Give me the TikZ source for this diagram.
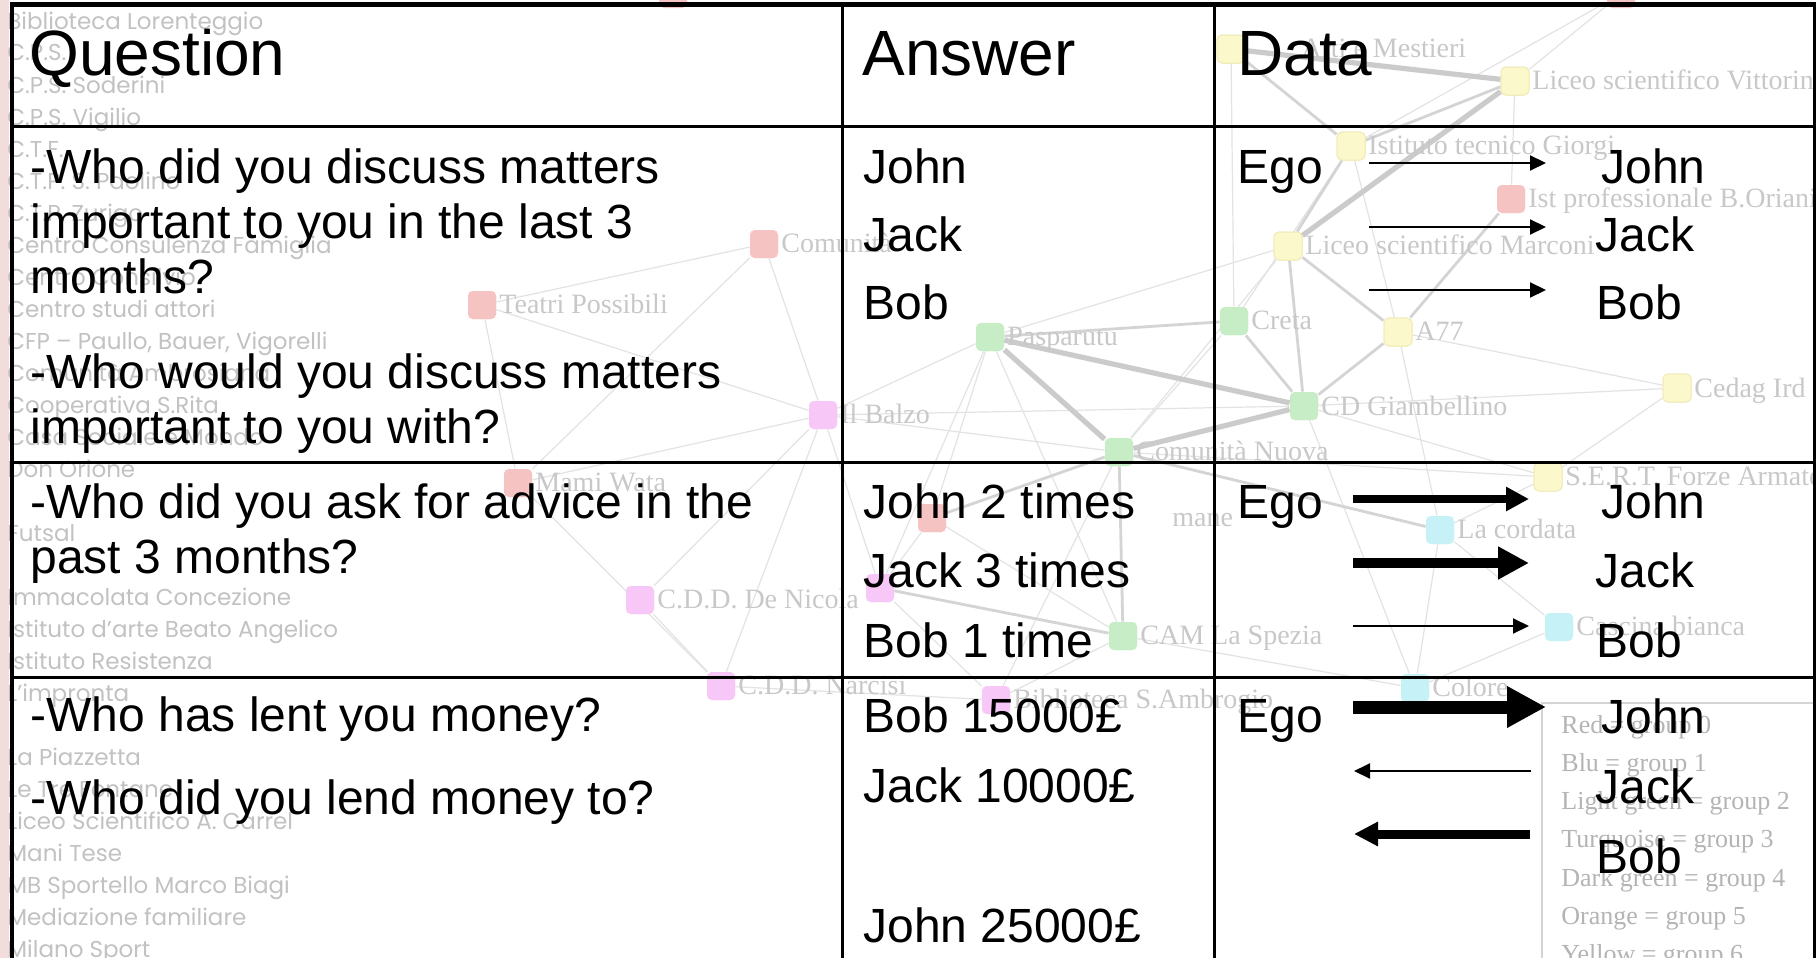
\documentclass[tikz,border=0pt]{standalone}
\usepackage{fontspec}
\setmainfont{Liberation Sans}
\newfontfamily\bgsans{Poppins}
\newfontfamily\bgserif{Liberation Serif}
\usetikzlibrary{arrows.meta}
\definecolor{listgrey}{HTML}{C2C2C2}
\definecolor{glabgrey}{HTML}{C8C8C8}
\definecolor{leggrey}{HTML}{B4B4B4}
\definecolor{edgethin}{HTML}{E3E3E3}
\definecolor{edgemed}{HTML}{D4D4D4}
\definecolor{edgethick}{HTML}{CBCBCB}
\definecolor{nred}{HTML}{F6C3C3}
\definecolor{npink}{HTML}{F7C8F7}
\definecolor{ngreen}{HTML}{C6EDC6}
\definecolor{nyellow}{HTML}{FBF9CC}
\definecolor{nyellowb}{HTML}{F0EBB8}
\definecolor{ncyan}{HTML}{C6F1F7}
\definecolor{stripe}{HTML}{F3DCDC}
\begin{document}
\begin{tikzpicture}[x=0.5pt,y=-0.5pt,
  gsq/.style={rectangle,rounded corners=2.5pt,minimum size=14pt,inner sep=0pt},
  gred/.style={gsq,fill=nred},
  gpink/.style={gsq,fill=npink},
  ggreen/.style={gsq,fill=ngreen},
  gyellow/.style={gsq,fill=nyellow,draw=nyellowb,line width=0.5pt},
  gcyan/.style={gsq,fill=ncyan},
  glab/.style={anchor=base west,inner sep=0pt,text=glabgrey,font=\bgserif\fontsize{14}{16}\selectfont},
  bgl/.style={anchor=base west,inner sep=0pt,text=listgrey,font=\bgsans\fontsize{11.5}{13}\selectfont},
  legt/.style={anchor=base west,inner sep=0pt,text=leggrey,font=\bgserif\fontsize{13}{15}\selectfont},
  ethin/.style={draw=edgethin,line width=0.6pt},
  emed/.style={draw=edgemed,line width=1.4pt},
  ethick/.style={draw=edgethick,line width=2.6pt},
  qtext/.style={anchor=base west,inner sep=0pt,font=\fontsize{24}{28}\selectfont},
  htext/.style={anchor=base west,inner sep=0pt,font=\fontsize{32}{38}\selectfont},
  tline/.style={line width=1.5pt},
  arrthin/.style={line width=1pt,-{Triangle[length=8pt,width=7.5pt]}},
  arrmid/.style={line width=4pt,-{Triangle[length=11.5pt,width=11.5pt]}},
  arrbig/.style={line width=5pt,-{Triangle[length=15.5pt,width=15.5pt]}},
  arrhuge/.style={line width=6.5pt,-{Triangle[length=19.5pt,width=19.5pt]}},
  arrback/.style={line width=4.5pt,-{Triangle[length=12pt,width=11.5pt]}}
]
\useasboundingbox (0,0) rectangle (1816,958);
\clip (0,0) rectangle (1816,958);
\fill[white] (0,0) rectangle (1816,958);
\fill[stripe] (0,0) rectangle (9,958);

% ---------- background network: nodes ----------
\node[gred]    (n1)  at (764,244) {};
\node[gred]    (n2)  at (482,305) {};
\node[ggreen]  (n3)  at (990,337) {};
\node[gpink]   (n4)  at (823,415) {};
\node[ggreen]  (n5)  at (1119,452) {};
\node[gred]    (n6)  at (518,483) {};
\node[gred]    (n7)  at (932,518) {};
\node[gpink]   (n8)  at (880,588) {};
\node[gpink]   (n9)  at (640,600) {};
\node[ggreen]  (n10) at (1123,636) {};
\node[gpink]   (n11) at (721,686) {};
\node[gpink]   (n12) at (996,700) {};
\node[gcyan]   (n13) at (1415,688) {};
\node[gcyan]   (n14) at (1440,530) {};
\node[gcyan]   (n15) at (1559,627) {};
\node[gyellow] (n16) at (1548,477) {};
\node[gyellow] (n17) at (1677,388) {};
\node[ggreen]  (n18) at (1304,406) {};
\node[gyellow] (n19) at (1398,332) {};
\node[ggreen]  (n20) at (1234,321) {};
\node[gyellow] (n21) at (1288,246) {};
\node[gred]    (n22) at (1511,199) {};
\node[gyellow] (n23) at (1351,146) {};
\node[gyellow] (n24) at (1515,81) {};
\node[gyellow] (n25) at (1231,49) {};
\node[gred]    (t1)  at (673,-6) {};
\node[gred]    (t2)  at (1621,-6) {};

% ---------- background network: edges ----------
\foreach \a/\b in {n1/n2,n1/n4,n1/n6,n2/n4,n2/n6,n4/n5,n4/n6,n4/n3,n4/n9,n4/n8,n4/n18,
  n3/n21,n3/n7,n3/n8,n3/n10,n5/n20,n5/n21,n5/n12,n5/n16,n18/n17,n19/n17,n18/n13,
  n14/n13,n14/n15,n13/n15,n10/n12,n9/n11,n11/n6,n11/n4,n23/n19,n23/n20,n24/n22,
  t2/n24,t2/n23,n25/n20,n7/n10,n7/n8,n12/n8,n10/n13,n16/n14,n11/n12,n17/n16,
  n18/n16,n19/n14}
  \draw[ethin] (\a) -- (\b);
\foreach \a/\b in {n3/n20,n20/n18,n21/n19,n23/n21,n23/n25,n19/n18,n19/n22,n5/n10,
  n5/n14,n8/n10,n7/n5,n21/n18,n23/n24}
  \draw[emed] (\a) -- (\b);
\foreach \a/\b in {n3/n5,n3/n18,n5/n18,n24/n21,n25/n24}
  \draw[ethick] (\a) -- (\b);
% node squares again, above the edges
\foreach \n/\s in {n1/gred,n2/gred,n3/ggreen,n4/gpink,n5/ggreen,n6/gred,n7/gred,n8/gpink,
  n9/gpink,n10/ggreen,n11/gpink,n12/gpink,n13/gcyan,n14/gcyan,n15/gcyan,n16/gyellow,
  n17/gyellow,n18/ggreen,n19/gyellow,n20/ggreen,n21/gyellow,n22/gred,n23/gyellow,
  n24/gyellow,n25/gyellow}
  \node[\s] (top\n) at (\n) {};

% ---------- background network: labels ----------
\node[glab] (l1)  at (781,252) {Comunità};
\node[glab] (l2)  at (499,313) {Teatri Possibili};
\node[glab] (l3)  at (1007,345) {Pasparutu};
\node[glab] (l4)  at (840,423) {Il Balzo};
\node[glab] (l5)  at (1136,460) {Comunità Nuova};
\node[glab] (l6)  at (535,491) {Mami Wata};
\node[glab] (l7)  at (1172,526) {mane};
\node[glab] (l9)  at (657,608) {C.D.D. De Nicola};
\node[glab] (l10) at (1140,644) {CAM La Spezia};
\node[glab] (l11) at (738,694) {C.D.D. Narcisi};
\node[glab] (l12) at (1013,708) {Biblioteca S.Ambrogio};
\node[glab] (l13) at (1432,696) {Colore};
\node[glab] (l14) at (1457,538) {La cordata};
\node[glab] (l15) at (1576,635) {Cascina bianca};
\node[glab] (l16) at (1565,485) {S.E.R.T. Forze Armate};
\node[glab] (l17) at (1694,397) {Cedag Ird};
\node[glab] (l18) at (1321,415) {CD Giambellino};
\node[glab] (l19) at (1415,340) {A77};
\node[glab] (l20) at (1251,329) {Creta};
\node[glab] (l21) at (1305,254) {Liceo scientifico Marconi};
\node[glab] (l22) at (1528,207) {Ist professionale B.Oriani};
\node[glab] (l23) at (1368,154) {Istituto tecnico Giorgi};
\node[glab] (l24) at (1532,89) {Liceo scientifico Vittorini};
\node[glab] (l25) at (1301,57) {Arti e Mestieri};

% ---------- background list on the left ----------
\foreach \k/\t in {0/Biblioteca Lorenteggio,1/C.P.S.,2/C.P.S. Soderini,3/C.P.S. Vigilio,
  4/C.T.F.,5/C.T.P. S. Paolino,6/C.T.P. Zurigo,7/Centro Consulenza Famiglia,
  8/Centro Consilvio,9/Centro studi attori,10/{CFP – Paullo, Bauer, Vigorelli},
  11/Comunità Ambrosiana,12/Cooperativa S.Rita,13/Casa Sociale e Mondo,14/Don Orione,
  16/Futsal,18/Immacolata Concezione,19/Istituto d’arte Beato Angelico,
  20/Istituto Resistenza,21/L’impronta,23/La Piazzetta,24/Le Tre Fontane,
  25/Liceo Scientifico A. Carrel,26/Mani Tese,27/MB Sportello Marco Biagi,
  28/Mediazione familiare,29/Milano Sport}
  \node[bgl] (bg\k) at (7,29+32*\k) {\t};

% ---------- legend box ----------
\draw[draw=edgemed,line width=0.8pt] (1542,970) -- (1542,703) -- (1830,703);
\foreach \k/\t in {0/Red = group 0,1/Blu = group 1,2/Light green = group 2,
  3/Turquoise = group 3,4/Dark green = group 4,5/Orange = group 5,6/Yellow = group 6}
  \node[legt] (lg\k) at (1561,733+38.3*\k) {\t};

% ---------- table ----------
\draw[tline] (11.5,126) -- (1814.5,126);
\draw[tline] (11.5,462) -- (1814.5,462);
\draw[tline] (11.5,677) -- (1814.5,677);
\draw[tline] (842,4) -- (842,960);
\draw[tline] (1214,4) -- (1214,960);
\draw[tline] (1814.5,4) -- (1814.5,960);
\draw[line width=2pt] (11.5,2) -- (11.5,960);
\draw[line width=2.5pt] (10,4.5) -- (1816,4.5);

% headers
\node[htext] (hq) at (29,75) {Question};
\node[htext] (ha) at (862,75) {Answer};
\node[htext] (hd) at (1237,75) {Data};

% question column
\node[qtext] (q1) at (30,183) {-Who did you discuss matters};
\node[qtext] (q2) at (30,238) {important to you in the last 3};
\node[qtext] (q3) at (30,293) {months?};
\node[qtext] (q4) at (30,388) {-Who would you discuss matters};
\node[qtext] (q5) at (30,443) {important to you with?};
\node[qtext] (q6) at (30,518) {-Who did you ask for advice in the};
\node[qtext] (q7) at (30,573) {past 3 months?};
\node[qtext] (q8) at (30,731) {-Who has lent you money?};
\node[qtext] (q9) at (30,814) {-Who did you lend money to?};

% answer column
\node[qtext] (a1) at (863,183) {John};
\node[qtext] (a2) at (863,251) {Jack};
\node[qtext] (a3) at (863,319) {Bob};
\node[qtext] (a4) at (863,518) {John 2 times};
\node[qtext] (a5) at (863,587) {Jack 3 times};
\node[qtext] (a6) at (863,657) {Bob 1 time};
\node[qtext] (a7) at (863,732) {Bob 15000£};
\node[qtext] (a8) at (863,802) {Jack 10000£};
\node[qtext] (a9) at (863,942) {John 25000£};

% data column
\node[qtext] (e1) at (1237,183) {Ego};
\node[qtext] (d1) at (1601,183) {John};
\node[qtext] (d2) at (1595,251) {Jack};
\node[qtext] (d3) at (1596,319) {Bob};
\node[qtext] (e2) at (1237,518) {Ego};
\node[qtext] (d4) at (1601,518) {John};
\node[qtext] (d5) at (1595,587) {Jack};
\node[qtext] (d6) at (1596,657) {Bob};
\node[qtext] (e3) at (1237,732) {Ego};
\node[qtext] (d7) at (1601,733) {John};
\node[qtext] (d8) at (1595,803) {Jack};
\node[qtext] (d9) at (1596,873) {Bob};

% arrows
\coordinate (r1as) at (1369,163); \coordinate (r1ae) at (1546,163);
\coordinate (r1bs) at (1369,227); \coordinate (r1be) at (1546,227);
\coordinate (r1cs) at (1369,290); \coordinate (r1ce) at (1546,290);
\coordinate (r2as) at (1353,499); \coordinate (r2ae) at (1529,499);
\coordinate (r2bs) at (1353,563); \coordinate (r2be) at (1529,563);
\coordinate (r2cs) at (1353,626); \coordinate (r2ce) at (1529,626);
\coordinate (r3as) at (1353,707); \coordinate (r3ae) at (1546,707);
\coordinate (r3bs) at (1531,771); \coordinate (r3be) at (1354,771);
\coordinate (r3cs) at (1530,834); \coordinate (r3ce) at (1354,834);
\draw[arrthin] (r1as) -- (r1ae);
\draw[arrthin] (r1bs) -- (r1be);
\draw[arrthin] (r1cs) -- (r1ce);
\draw[arrmid]  (r2as) -- (r2ae);
\draw[arrbig]  (r2bs) -- (r2be);
\draw[arrthin] (r2cs) -- (r2ce);
\draw[arrhuge] (r3as) -- (r3ae);
\draw[arrthin] (r3bs) -- (r3be);
\draw[arrback] (r3cs) -- (r3ce);
\end{tikzpicture}
\end{document}
